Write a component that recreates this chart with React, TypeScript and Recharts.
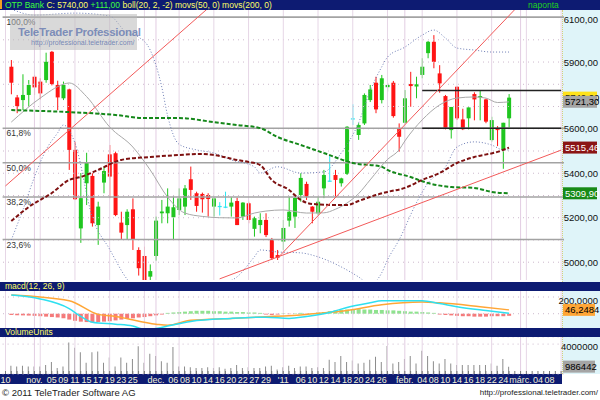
import React from 'react';
import { ComposedChart, Bar, Line, XAxis, YAxis, CartesianGrid, ReferenceLine, Cell } from 'recharts';

// trading-day slots from 25 Oct 2010 to 10 Mar 2011, labels every other day
const dateTicks: [number, string][] = [
  [0, '10'], [5, 'nov.'], [8, '05'], [10, '09'], [12, '11'], [14, '15'], [16, '17'], [18, '19'], [20, '23'], [22, '25'],
  [26, 'dec.'], [29, '06'], [31, '08'], [33, '10'], [35, '14'], [37, '16'], [39, '20'], [41, '22'], [43, '27'], [45, '29'],
  [48, "'11"], [51, '06'], [53, '10'], [55, '12'], [57, '14'], [59, '18'], [61, '20'], [63, '24'], [65, '26'],
  [69, 'febr.'], [72, '04'], [74, '08'], [76, '10'], [78, '14'], [80, '16'], [82, '18'], [84, '22'], [86, '24'],
  [89, 'márc.'], [92, '04'], [94, '08'],
];
const SLOTS = 97;

const opens = [null,
  5879, 5741, 5729, 5752, 5834, 5812, 5819, 5946, 5797, 5737,
  5777, 5505, 5152, 5355, 5388, 5167, 5358, 5485, 5490, 5178,
  5167, 5238, 5055, 5028, 4935, 5028, 5220, 5220, 5202, 5235,
  5250, 5373, 5310, 5307, 5302, 5250, 5253, 5250, 5250, 5275,
  5205, 5265, 5150, 5167, 5190, 5100, 5032, 5093, 5187, 5205,
  5302, 5352, 5250, 5220, 5332, 5367, 5392, 5355, 5397, 5647,
  5572, 5624, 5729, 5807, 5729, 5787, 5807, 5602, 5627, 5801,
  5790, 5842, 5940, 5991, 5849, 5747, 5594, 5789, 5642, 5647,
  5756, 5741, 5732, 5549, 5603, 5505, 5647];
const highs = [null,
  5909, 5752, 5845, 5819, 5842, 5827, 5942, 5950, 5816, 5812,
  5780, 5542, 5401, 5492, 5400, 5272, 5430, 5527, 5497, 5227,
  5238, 5287, 5067, 5070, 4990, 5205, 5280, 5332, 5295, 5332,
  5347, 5430, 5317, 5313, 5310, 5290, 5270, 5317, 5292, 5290,
  5270, 5272, 5205, 5220, 5220, 5109, 5055, 5190, 5295, 5295,
  5400, 5362, 5252, 5295, 5415, 5479, 5415, 5380, 5612, 5710,
  5625, 5759, 5797, 5834, 5842, 5804, 5815, 5624, 5774, 5856,
  5834, 5917, 5995, 6021, 5886, 5752, 5698, 5790, 5690, 5696,
  5764, 5774, 5736, 5654, 5612, 5627, 5756];
const lows = [null,
  5755, 5670, 5684, 5699, 5752, 5732, 5807, 5795, 5684, 5729,
  5415, 5280, 5087, 5257, 5160, 5078, 5310, 5288, 5207, 5100,
  5100, 5055, 4940, 4900, 4905, 5007, 5175, 5175, 5100, 5212,
  5212, 5280, 5227, 5223, 5205, 5205, 5210, 5243, 5205, 5167,
  5190, 5175, 5115, 5130, 5113, 5010, 5010, 5055, 5160, 5154,
  5272, 5280, 5175, 5212, 5288, 5362, 5295, 5340, 5392, 5617,
  5550, 5617, 5720, 5670, 5714, 5767, 5650, 5497, 5624, 5699,
  5737, 5827, 5917, 5872, 5762, 5597, 5556, 5640, 5594, 5597,
  5638, 5638, 5625, 5542, 5522, 5420, 5606];
const closes = [null,
  5807, 5702, 5752, 5797, 5786, 5759, 5901, 5801, 5741, 5797,
  5505, 5283, 5288, 5447, 5175, 5250, 5410, 5385, 5212, 5133,
  5227, 5100, 4973, 4920, 4960, 5187, 5228, 5250, 5247, 5287,
  5332, 5325, 5253, 5283, 5284, 5287, 5253, 5250, 5268, 5167,
  5268, 5190, 5198, 5190, 5122, 5018, 5020, 5154, 5227, 5289,
  5379, 5295, 5227, 5272, 5392, 5367, 5370, 5377, 5609, 5647,
  5617, 5752, 5777, 5687, 5827, 5797, 5657, 5564, 5737, 5792,
  5800, 5879, 5991, 5901, 5804, 5604, 5698, 5647, 5598, 5696,
  5732, 5747, 5632, 5639, 5594, 5627, 5740];

// indicator lines as [slot, value]
const bollMid: [number, number][] = [[1, 5630], [6, 5738], [10, 5800], [11, 5806], [14, 5745], [18, 5608], [22, 5518], [25, 5415], [28, 5293], [31, 5221], [34, 5206], [37, 5200], [40, 5199], [43, 5221], [45, 5230], [48, 5235], [52, 5221], [55, 5222], [57, 5238], [59, 5266], [61, 5308], [63, 5370], [66, 5462], [68, 5505], [69, 5545], [72, 5640], [75, 5707], [78, 5738], [81, 5743], [83, 5738], [85, 5718], [87, 5721]];
const bollUp: [number, number][] = [[1, 6138], [5, 6111], [12, 6120], [18, 6107], [21, 6030], [23, 6012], [25, 5954], [27, 5788], [28, 5660], [30, 5530], [33, 5505], [36, 5491], [39, 5460], [43, 5429], [44, 5401], [47, 5429], [51, 5401], [55, 5406], [58, 5491], [61, 5626], [63, 5770], [65, 5878], [66, 5922], [69, 5967], [72, 6021], [74, 6044], [76, 6008], [78, 5963], [81, 5954], [84, 5945], [87, 5945]];
const bollLow: [number, number][] = [[1, 5100], [3, 5235], [5, 5383], [7, 5505], [9, 5581], [10, 5617], [12, 5536], [15, 5203], [18, 5058], [21, 4924], [23, 4870], [27, 4860], [32, 4880], [37, 4900], [40, 4934], [43, 5024], [44, 5055], [47, 5046], [51, 5042], [54, 5024], [58, 4979], [61, 4934], [63, 4900], [65, 4952], [66, 5010], [68, 5100], [71, 5267], [73, 5356], [76, 5428], [78, 5518], [81, 5541], [84, 5527], [86, 5505], [87, 5505]];
const movs50: [number, number][] = [[1, 5185], [4, 5248], [8, 5311], [11, 5370], [13, 5383], [16, 5415], [20, 5460], [25, 5473], [30, 5482], [34, 5487], [36, 5482], [40, 5460], [42, 5451], [44, 5437], [46, 5370], [49, 5325], [51, 5280], [53, 5262], [57, 5257], [59, 5257], [61, 5275], [64, 5302], [66, 5316], [69, 5334], [72, 5370], [75, 5401], [78, 5446], [81, 5473], [85, 5496], [87, 5515]];
const movs200: [number, number][] = [[1, 5684], [11, 5675], [19, 5662], [24, 5648], [30, 5648], [36, 5630], [40, 5617], [44, 5603], [47, 5563], [51, 5527], [55, 5491], [60, 5446], [65, 5429], [66, 5415], [70, 5383], [73, 5356], [77, 5338], [81, 5334], [84, 5316], [87, 5310]];

const macdLine: [number, number][] = [[1, 223], [6, 177], [11, 61], [13, -33], [15, -102], [19, -125], [22, -148], [24, -185], [26, -178], [28, -148], [32, -92], [39, -56], [45, -41], [49, -56], [52, -33], [56, 15], [59, 74], [63, 130], [65, 154], [72, 154], [75, 121], [78, 84], [83, 38], [87, 5]];
const signalLine: [number, number][] = [[1, 223], [11, 154], [16, -8], [19, -33], [26, -125], [28, -139], [32, -79], [39, -56], [45, -36], [52, -8], [59, 38], [65, 107], [72, 139], [75, 130], [82, 84], [87, 46]];
const histogram = [null,
  -15, -18, -20, -22, -25, -30, -35, -40, -45, -55,
  -70, -85, -95, -100, -105, -100, -95, -90, -80, -70,
  -60, -55, -45, -40, -30, -20, -10, 10, 15, 20,
  25, 30, 35, 35, 35, 30, 30, 25, 25, 20,
  20, 15, 15, 10, -10, -15, -10, 5, -5, 5,
  10, -5, 5, 15, 20, 30, 40, 45, 50, 55,
  55, 50, 50, 45, 45, 40, 40, 35, 30, 25,
  25, 20, 15, 10, -10, -15, -20, -25, -30, -30,
  -35, -35, -35, -30, -30, -30, -25];

// volume in millions
const volumes = [null,
  1.1, 1.0, 1.1, 1.0, 1.0, 1.0, 1.2, 1.6, 0.8, 1.0,
  4.2, 3.5, 2.9, 1.5, 2.9, 3.0, 1.5, 2.2, 1.0, 2.2,
  1.5, 2.0, 3.7, 1.5, 2.7, 2.4, 1.7, 1.5, 3.6, 1.0,
  1.0, 0.9, 0.8, 0.8, 0.9, 0.8, 0.9, 0.7, 0.8, 1.2,
  0.8, 0.9, 0.8, 0.8, 1.0, 1.1, 0.6, 0.9, 1.1, 0.8,
  1.0, 1.0, 0.8, 0.9, 0.8, 1.9, 1.6, 2.4, 1.6, 1.8,
  1.4, 1.5, 1.9, 2.3, 1.6, 3.75, 1.4, 1.6, 2.0, 2.4,
  1.4, 3.1, 2.4, 1.7, 1.4, 2.0, 1.4, 1.2, 1.2, 1.2,
  1.2, 1.2, 1.2, 1.4, 1.1, 2.0, 0.986442];

// price axis ticks that are not hidden under the value boxes
const priceTicks = [5000, 5100, 5200, 5400, 5600, 5800, 5900, 6000, 6100];
const gridTicks = [5000, 5100, 5200, 5300, 5400, 5500, 5600, 5700, 5800, 5900, 6000, 6100];
const fibLevels: [number, string][] = [[6102, '100,0%'], [5602, '61,8%'], [5447, '50,0%'], [5293, '38,2%'], [5102, '23,6%']];
const trendLines: [number, number, number, number][] = [[0, 5343, 35, 6142], [47, 5018, 88, 6136], [37, 4925, 96, 5504]];
const levelLines: [number, number, number][] = [[72, 96, 5772], [72, 96, 5602]];
const vGrid = [0, 6, 12, 18, 24, 30, 36, 42, 48, 54, 60, 66, 72, 78, 84, 90, 96];
const monthStarts = [5, 26, 69, 89];

const NAVY = '#0d1b72';
const FONT = '"Liberation Sans", Arial, sans-serif';
const UP = '#1fc61f';
const DOWN = '#ff1414';
const DOJI = '#2ee6f2';

const pick = (pts: [number, number][], i: number) => {
  const p = pts.find(q => q[0] === i);
  return p ? p[1] : null;
};
const label = (i: number) => {
  const t = dateTicks.find(d => d[0] === i);
  return t ? t[1] : '';
};

const rows = Array.from({ length: SLOTS }, (_, i) => ({
  i,
  o: opens[i] ?? null,
  h: highs[i] ?? null,
  l: lows[i] ?? null,
  c: closes[i] ?? null,
  range: opens[i] != null ? [lows[i], highs[i]] : null,
  mid: pick(bollMid, i),
  up: pick(bollUp, i),
  lo: pick(bollLow, i),
  ma50: pick(movs50, i),
  ma200: pick(movs200, i),
  macd: pick(macdLine, i),
  sig: pick(signalLine, i),
  hist: histogram[i] ?? null,
  vol: volumes[i] != null ? (volumes[i] as number) * 1e6 : null,
}));

const comma = (v: number, d: number) => v.toFixed(d).replace('.', ',');

const Candle = (props: any) => {
  const { x, y, width, height, payload } = props;
  if (payload.o == null) return null;
  const { o, h, l, c } = payload;
  const px = (v: number) => y + ((h - v) / (h - l)) * height;
  const cx = x + width / 2;
  const color = c > o ? UP : c < o ? DOWN : DOJI;
  const top = px(Math.max(o, c));
  const bot = px(Math.min(o, c));
  return (
    <g>
      <line x1={cx} x2={cx} y1={y} y2={y + height} stroke={color} strokeWidth={1} />
      <rect x={x} y={top} width={width} height={Math.max(1.2, bot - top)} fill={color} />
    </g>
  );
};

const RightTick = ({ y, payload, fmt }: any) => (
  <text x={598} y={y} dy={3.5} textAnchor="end" fontSize={9.5} fontFamily={FONT} fill="#111">
    {fmt(payload.value)}
  </text>
);

const ValueBox = ({ viewBox, text, bg, fg, w }: any) => {
  const x = viewBox.x + viewBox.width;
  const y = viewBox.y;
  return (
    <g>
      <rect x={x - 1} y={y - 6} width={w} height={12} fill={bg} />
      <text x={x + 1} y={y + 3.5} fontSize={9.5} fontFamily={FONT} fill={fg}>{text}</text>
    </g>
  );
};

const FibLabel = ({ viewBox, text }: any) => (
  <text x={viewBox.x + 4} y={viewBox.y + 8} fontSize={8.5} fontFamily={FONT} fill="#333">{text}</text>
);

const DateTick = ({ x, y, payload }: any) => {
  const t = label(payload.value);
  return (
    <g>
      <line x1={x} x2={x} y1={y - 3} y2={y} stroke="#777" />
      {t ? (
        <text x={x} y={y + 8.5} textAnchor="middle" fontSize={9} fontFamily={FONT} fill="#f2f0d6">{t}</text>
      ) : null}
    </g>
  );
};

const gridLines = () => [
  ...vGrid.map(k => <ReferenceLine key={'v' + k} x={k} stroke="#e6d6e6" strokeWidth={1} />),
  ...monthStarts.map(k => <ReferenceLine key={'m' + k} x={k} stroke="#e2cde2" strokeWidth={1} />),
];

const bar = (top: number, h: number, extra: React.CSSProperties = {}) => (
  <div style={{ position: 'absolute', left: 0, top, width: 600, height: h, background: NAVY, ...extra }} />
);

export default function App() {
  const hdr = { position: 'absolute' as const, left: 5, fontSize: 8.5, fontFamily: FONT, color: '#ffff66', whiteSpace: 'nowrap' as const };
  return (
    <div style={{ position: 'absolute', left: 0, top: 0, width: 600, height: 400, background: '#fff', overflow: 'hidden', fontFamily: FONT }}>
      {/* axis column */}
      <div style={{ position: 'absolute', left: 562, top: 10, width: 38, height: 364, background: '#dff4f9', borderLeft: '1px dotted #d8cf7a' }} />
      {bar(0, 10)}
      <div style={{ position: 'absolute', left: 0, top: 0, width: 2, height: 9, background: '#f0a020' }} />
      <div style={{ ...hdr, top: 0, lineHeight: '10px' }}>
        <span style={{ color: '#3dff3d' }}>OTP Bank</span> C: 5740,00 <span style={{ color: '#3dff3d' }}>+111,00</span> boll(20, 2, -2) movs(50, 0) movs(200, 0)
      </div>
      <div style={{ ...hdr, top: 0, left: 528, lineHeight: '10px', color: '#1fd01f' }}>naponta</div>

      {/* price panel */}
      <div style={{ position: 'absolute', left: 0, top: 10 }}>
        <ComposedChart width={600} height={270} data={rows} margin={{ top: 0, right: 0, bottom: 0, left: 2.6 }}>
          {gridTicks.map(v => (
            <ReferenceLine key={'h' + v} y={v} stroke="#cdb9cd" strokeDasharray="1 4" />
          ))}
          {gridLines()}
          <XAxis dataKey="i" hide />
          <YAxis
            orientation="right"
            width={36}
            domain={[4920, 6134]}
            allowDataOverflow
            ticks={priceTicks}
            tick={<RightTick fmt={(v: number) => comma(v, 2)} />}
            tickLine={false}
            axisLine={false}
          />
          {fibLevels.map(([v, t]) => (
            <ReferenceLine key={t} y={v} stroke="#a3a3a3" strokeWidth={1.6} label={<FibLabel text={t} />} />
          ))}
          <Line dataKey="up" stroke="#6d7db4" strokeDasharray="1 2" dot={false} connectNulls type="monotone" isAnimationActive={false} />
          <Line dataKey="lo" stroke="#6d7db4" strokeDasharray="1 2" dot={false} connectNulls type="monotone" isAnimationActive={false} />
          <Line dataKey="mid" stroke="#a8a8a8" strokeWidth={1} dot={false} connectNulls type="monotone" isAnimationActive={false} />
          <Bar dataKey="range" barSize={4} shape={<Candle />} isAnimationActive={false} />
          <Line dataKey="ma200" stroke="#15881a" strokeWidth={2} strokeDasharray="4 2" dot={false} connectNulls type="monotone" isAnimationActive={false} />
          <Line dataKey="ma50" stroke="#7e1111" strokeWidth={2} strokeDasharray="4 2" dot={false} connectNulls type="monotone" isAnimationActive={false} />
          {levelLines.map(([a, b, v], k) => (
            <ReferenceLine key={'lv' + k} segment={[{ x: a, y: v }, { x: b, y: v }]} stroke="#222" strokeWidth={1.5} ifOverflow="hidden" />
          ))}
          {trendLines.map(([a, va, b, vb], k) => (
            <ReferenceLine key={'tr' + k} segment={[{ x: a, y: va }, { x: b, y: vb }]} stroke="#f25a5a" strokeWidth={1} ifOverflow="hidden" />
          ))}
          <ReferenceLine y={5740} stroke="none" label={<ValueBox text="5740,00" bg="#ffe21a" fg="#000" w={34} />} />
          <ReferenceLine y={5721.3} stroke="none" label={<ValueBox text="5721,30" bg="#a5a5a5" fg="#000" w={34} />} />
          <ReferenceLine y={5515.46} stroke="none" label={<ValueBox text="5515,46" bg="#8b1414" fg="#fff" w={34} />} />
          <ReferenceLine y={5309.9} stroke="none" label={<ValueBox text="5309,90" bg="#178a17" fg="#fff" w={34} />} />
        </ComposedChart>
      </div>

      {/* watermark */}
      <div style={{ position: 'absolute', left: 10, top: 14, width: 127, height: 36, background: 'rgba(185,185,185,0.55)' }} />
      <div style={{ position: 'absolute', left: 18, top: 26, fontSize: 11.5, lineHeight: '12px', fontWeight: 'bold', color: 'rgba(100,120,175,0.8)', whiteSpace: 'nowrap', letterSpacing: -0.3 }}>TeleTrader Professional</div>
      <div style={{ position: 'absolute', left: 31, top: 39, fontSize: 7, lineHeight: '8px', color: 'rgba(100,120,175,0.85)', whiteSpace: 'nowrap' }}>http://professional.teletrader.com/</div>

      {/* macd */}
      {bar(282, 9)}
      <div style={{ ...hdr, top: 281, lineHeight: '10px' }}>macd(12, 26, 9)</div>
      <div style={{ position: 'absolute', left: 0, top: 291 }}>
        <ComposedChart width={600} height={37} data={rows} margin={{ top: 0, right: 0, bottom: 0, left: 2.6 }}>
          {gridLines()}
          <XAxis dataKey="i" hide />
          <YAxis
            orientation="right"
            width={36}
            domain={[-171, 272]}
            allowDataOverflow
            ticks={[0, 200]}
            tick={<RightTick fmt={(v: number) => (v === 0 ? '0' : comma(v, 4))} />}
            tickLine={false}
            axisLine={false}
          />
          <ReferenceLine y={200} stroke="#cdb9cd" strokeDasharray="1 4" />
          <ReferenceLine y={0} stroke="#cdb9cd" strokeDasharray="1 4" />
          <Bar dataKey="hist" barSize={4} isAnimationActive={false}>
            {rows.map(r => (
              <Cell key={r.i} fill={(r.hist ?? 0) >= 0 ? '#8fe28f' : '#f57a7a'} />
            ))}
          </Bar>
          <Line dataKey="sig" stroke="#ffa636" strokeWidth={1.5} dot={false} connectNulls type="monotone" isAnimationActive={false} />
          <Line dataKey="macd" stroke="#2ee0f0" strokeWidth={1.5} dot={false} connectNulls type="monotone" isAnimationActive={false} />
          <ReferenceLine y={46.2484} stroke="none" label={<ValueBox text="46,2484" bg="#ffa636" fg="#000" w={32} />} />
        </ComposedChart>
      </div>

      {/* volume */}
      {bar(328, 9)}
      <div style={{ ...hdr, top: 327, lineHeight: '10px' }}>VolumeUnits</div>
      {bar(374, 10, { width: 562 })}
      <div style={{ position: 'absolute', left: 0, top: 337 }}>
        <ComposedChart width={600} height={47} data={rows} margin={{ top: 0, right: 0, bottom: 0, left: 2.6 }}>
          <CartesianGrid vertical={false} stroke="#cdb9cd" strokeDasharray="1 4" />
          {gridLines()}
          <XAxis dataKey="i" interval={0} height={10} tickSize={0} tickMargin={0} tickLine={false} axisLine={false} tick={<DateTick />} />
          <YAxis
            orientation="right"
            width={36}
            domain={[0, 4950000]}
            allowDataOverflow
            ticks={[2000000, 4000000]}
            tick={<RightTick fmt={(v: number) => String(v)} />}
            tickLine={false}
            axisLine={false}
          />
          <Bar dataKey="vol" barSize={1} fill="#8c8c8c" isAnimationActive={false} />
          <ReferenceLine y={986442} stroke="none" label={<ValueBox text="986442" bg="#a5a5a5" fg="#000" w={32} />} />
        </ComposedChart>
      </div>

      {/* footer */}
      <div style={{ position: 'absolute', left: 2, top: 387, fontSize: 9.5, color: '#222', whiteSpace: 'nowrap' }}>© 2011 TeleTrader Software AG</div>
      <div style={{ position: 'absolute', right: 2, top: 388, fontSize: 8, color: '#222', whiteSpace: 'nowrap' }}>http://professional.teletrader.com/</div>
    </div>
  );
}
